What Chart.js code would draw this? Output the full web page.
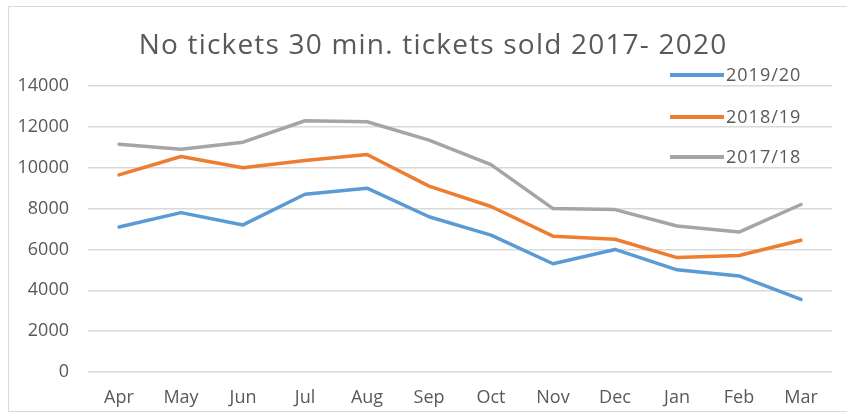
<!DOCTYPE html>
<html>
<head>
<meta charset="utf-8">
<script src="https://cdn.jsdelivr.net/npm/chart.js@4"></script>
<style>
  html, body { margin: 0; padding: 0; background: #fff; }
  .wrap { position: relative; width: 847px; height: 414px; }
  .frame { position: absolute; left: 8px; top: 6px; right: -2px; bottom: 2px; border: 1px solid #d9d9d9; pointer-events: none; }
</style>
</head>
<body>
<div class="wrap">
  <canvas id="chart" width="847" height="414"></canvas>
  <div class="frame"></div>
</div>
<script>
// Data
const months = ["Apr", "May", "Jun", "Jul", "Aug", "Sep", "Oct", "Nov", "Dec", "Jan", "Feb", "Mar"];
const season1920 = [7100, 7800, 7200, 8700, 9000, 7600, 6700, 5300, 6000, 5000, 4700, 3550];
const season1819 = [9650, 10550, 10000, 10350, 10650, 9100, 8100, 6650, 6500, 5600, 5700, 6450];
const season1718 = [11150, 10900, 11250, 12300, 12250, 11350, 10150, 8000, 7950, 7150, 6850, 8200];
const seriesNames = ["2019/20", "2018/19", "2017/18"];
const titleText = "No tickets 30 min. tickets sold 2017- 2020";

const textColor = "#595959";
const fontFamily = "'Open Sans', Lato, sans-serif";

// Title + legend drawn inside the chart like Excel does
const excelBits = {
  id: "excelBits",
  afterDraw(chart) {
    const ctx = chart.ctx;
    ctx.save();
    ctx.fillStyle = textColor;
    ctx.font = "28px " + fontFamily;
    ctx.letterSpacing = "1.2px";
    ctx.textAlign = "center";
    ctx.textBaseline = "middle";
    ctx.fillText(titleText, 433, 46);

    const rows = [75, 117, 157];
    ctx.font = "18px " + fontFamily;
    ctx.letterSpacing = "1px";
    ctx.textAlign = "left";
    chart.data.datasets.forEach((ds, i) => {
      const y = rows[i];
      ctx.strokeStyle = ds.borderColor;
      ctx.lineWidth = 4;
      ctx.beginPath();
      ctx.moveTo(670, y);
      ctx.lineTo(724, y);
      ctx.stroke();
      ctx.fillText(ds.label, 726, y + 1);
    });
    ctx.restore();
  }
};

new Chart("chart", {
  type: "line",
  data: {
    labels: months,
    datasets: [
      { label: seriesNames[0], data: season1920, borderColor: "#5b9bd5" },
      { label: seriesNames[1], data: season1819, borderColor: "#ed7d31" },
      { label: seriesNames[2], data: season1718, borderColor: "#a5a5a5" }
    ]
  },
  options: {
    responsive: false,
    animation: false,
    layout: { padding: { top: 86, right: 15, bottom: 0, left: 0 } },
    elements: {
      line: { borderWidth: 3.5, tension: 0, borderCapStyle: "round", borderJoinStyle: "round" },
      point: { radius: 0 }
    },
    plugins: {
      legend: { display: false },
      title: { display: false },
      tooltip: { enabled: false }
    },
    scales: {
      x: {
        offset: true,
        grid: { display: false, drawTicks: false },
        border: { display: false },
        ticks: { color: textColor, font: { family: fontFamily, size: 18 }, padding: 15, maxRotation: 0 },
        afterFit(scale) { scale.height = 42; }
      },
      y: {
        min: 0,
        max: 14000,
        grid: { color: "#d9d9d9", lineWidth: 1.5, drawTicks: false },
        border: { display: false },
        ticks: {
          stepSize: 2000,
          color: textColor,
          font: { family: fontFamily, size: 18 },
          padding: 19,
          callback: (v) => String(v)
        },
        afterFit(scale) { scale.width = 88; }
      }
    }
  },
  plugins: [excelBits]
});
</script>
</body>
</html>
